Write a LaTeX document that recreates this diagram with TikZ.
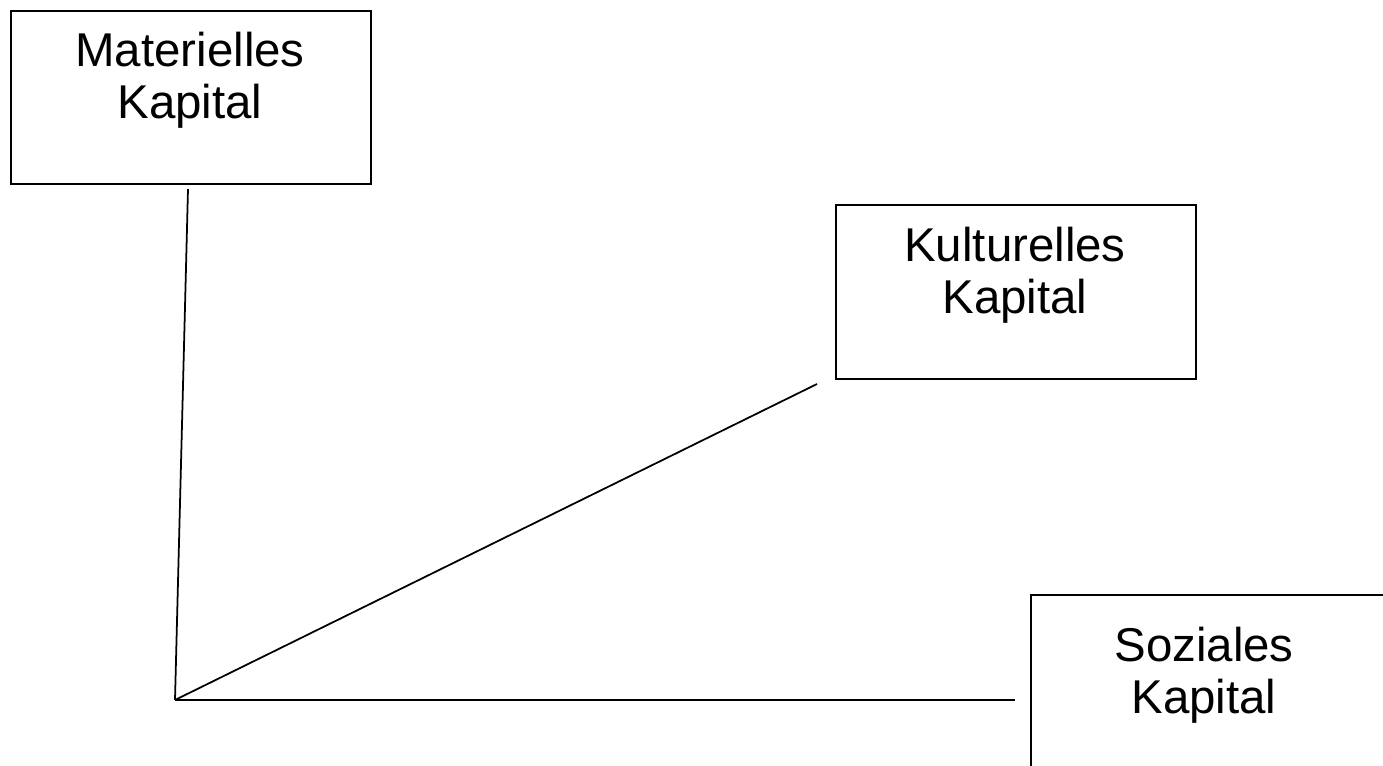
\documentclass[tikz,border=0pt]{standalone}
\usepackage{fontspec}
\setmainfont{Liberation Sans}

\tikzset{
  kbox/.style={draw, line width=1.3pt, rectangle, anchor=north west, minimum width=7.2cm, inner sep=0pt},
  ktext/.style={anchor=north, align=center, inner sep=0pt, font=\fontsize{27}{29.5}\selectfont},
  kline/.style={line width=1pt}
}

\begin{document}
\begin{tikzpicture}[x=0.02cm, y=-0.02cm]
    \useasboundingbox (0,0) rectangle (1383,766);
    \clip (0,0) rectangle (1383,766);

    % Boxes
    \node[kbox, minimum height=3.46cm] (mat) at (10,10) {};
    \node[ktext] (matt) at (190,32) {Materielles\\Kapital};

    \node[kbox, minimum height=3.48cm] (kult) at (835,204) {};
    \node[ktext] (kultt) at (1015,227) {Kulturelles\\Kapital};

    \node[kbox, minimum height=3.6cm] (soz) at (1030,594) {};
    \node[ktext] (sozt) at (1204,627) {Soziales\\Kapital};

    % Lines from the origin
    \coordinate (o) at (175,700);
    \coordinate (mend) at (188,189);
    \coordinate (kend) at (817,384);
    \coordinate (send) at (1015,700);
    \draw[kline] (o) -- (mend);
    \draw[kline] (o) -- (kend);
    \draw[kline] (o) -- (send);
\end{tikzpicture}
\end{document}
